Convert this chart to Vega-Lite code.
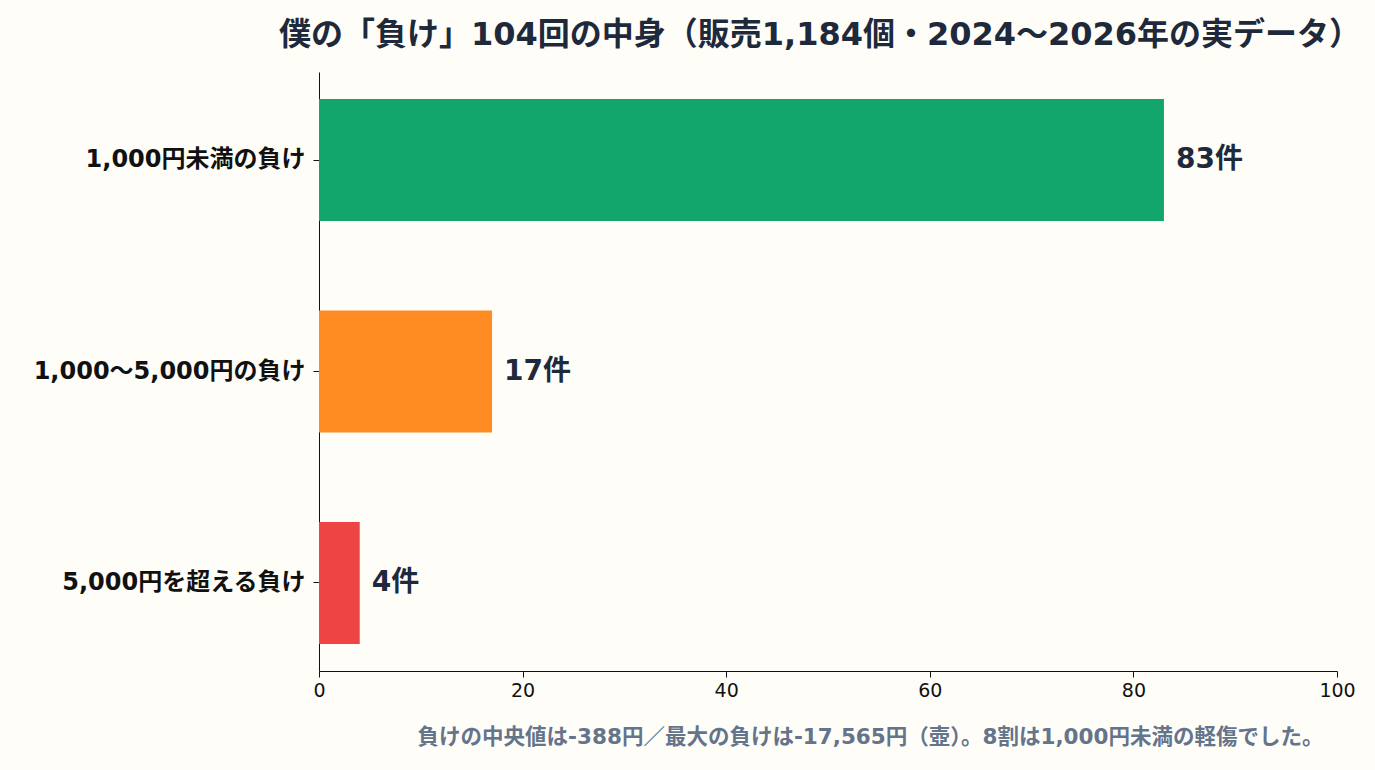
{
  "$schema": "https://vega.github.io/schema/vega-lite/v6.json",
  "width": 1018,
  "height": 599,
  "autosize": {"type": "none"},
  "padding": {"left": 319, "top": 72, "right": 38, "bottom": 99},
  "background": "#fffdf8",
  "title": {
    "text": "僕の「負け」104回の中身（販売1,184個・2024〜2026年の実データ）",
    "font": "DejaVu Sans, Noto Sans CJK JP",
    "fontSize": 32,
    "fontWeight": "bold",
    "color": "#1e293b",
    "anchor": "middle",
    "offset": 20,
    "dx": -8
  },
  "config": {
    "view": {"stroke": null},
    "font": "DejaVu Sans, Noto Sans CJK JP",
    "axis": {"grid": false, "domainColor": "#111111", "tickColor": "#111111", "labelColor": "#111111"}
  },
  "data": {
    "values": [
      {"category": "1,000円未満の負け", "count": 83, "label": "83件"},
      {"category": "1,000〜5,000円の負け", "count": 17, "label": "17件"},
      {"category": "5,000円を超える負け", "count": 4, "label": "4件"}
    ]
  },
  "encoding": {
    "y": {
      "field": "category",
      "type": "nominal",
      "sort": null,
      "scale": {"paddingInner": 0.423, "paddingOuter": 0.128},
      "axis": {"title": null, "labelFontSize": 24, "labelFontWeight": "bold", "labelLimit": 400, "tickSize": 6, "labelPadding": 8}
    },
    "x": {
      "field": "count",
      "type": "quantitative",
      "scale": {"domain": [0, 100], "nice": false},
      "axis": {
        "values": [0, 20, 40, 60, 80, 100],
        "labelFontSize": 19,
        "labelFlush": false,
        "tickSize": 6,
        "labelPadding": 4,
        "title": "負けの中央値は-388円／最大の負けは-17,565円（壺）。8割は1,000円未満の軽傷でした。",
        "titleFontSize": 21.5,
        "titleFontWeight": "bold",
        "titleColor": "#64748b",
        "titleAnchor": "end",
        "titleAlign": "right",
        "titleX": 1004,
        "titlePadding": 26
      }
    }
  },
  "layer": [
    {
      "mark": {"type": "bar"},
      "encoding": {
        "color": {
          "field": "category",
          "type": "nominal",
          "sort": null,
          "scale": {"range": ["#12a66c", "#ff8c22", "#ef4444"]},
          "legend": null
        }
      }
    },
    {
      "mark": {"type": "text", "align": "left", "dx": 12, "fontSize": 28, "fontWeight": "bold", "color": "#1e293b"},
      "encoding": {"text": {"field": "label"}}
    }
  ]
}
